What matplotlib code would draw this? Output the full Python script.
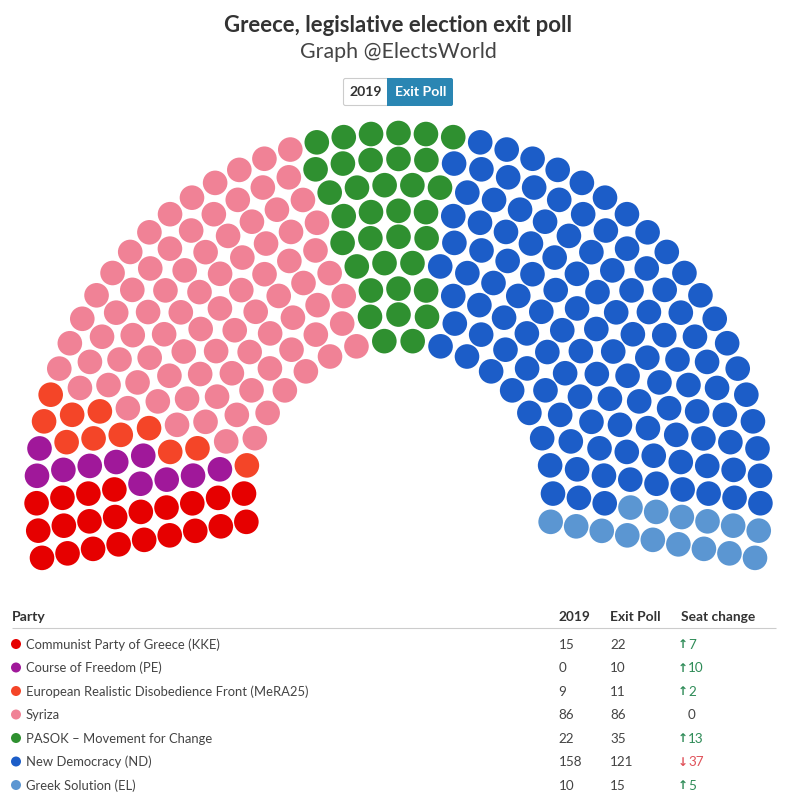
import numpy as np
import matplotlib
matplotlib.use("Agg")
import matplotlib.pyplot as plt
from matplotlib.patches import Circle, FancyBboxPatch, Rectangle

parties = ["Communist Party of Greece (KKE)", "Course of Freedom (PE)",
           "European Realistic Disobedience Front (MeRA25)", "Syriza",
           "PASOK – Movement for Change", "New Democracy (ND)", "Greek Solution (EL)"]
seats_2019 = [15, 0, 9, 86, 22, 158, 10]
seats_exit = [22, 10, 11, 86, 35, 121, 15]
colors = ["#e60000", "#a0189a", "#f44528", "#f08296", "#2f9030", "#1c5dc8", "#5b96d2"]

plt.rcParams["font.family"] = ["Lato", "DejaVu Sans"]
DARK = "#333333"
W, H = 796, 805


def px(size):
    return size * 0.72


def hemicycle(total, n_rows=9, r_in=154.5, r_out=362.0, cx=398.5, cy=495.0, overhang=10.0):
    # equal spacing along every row, largest remainder for the rounding
    radii = np.linspace(r_in, r_out, n_rows)
    share = total * radii / radii.sum()
    counts = np.floor(share).astype(int)
    for i in np.argsort(counts - share)[: total - counts.sum()]:
        counts[i] += 1
    start = np.radians(180 + overhang)
    end = np.radians(-overhang)
    pts = []
    for r, n in zip(radii, counts):
        for a in np.linspace(start, end, n):
            pts.append((-round(a, 4), r, cx + r * np.cos(a), cy - r * np.sin(a)))
    pts.sort(key=lambda p: (p[0], p[1]))
    return [(p[2], p[3]) for p in pts]


fig = plt.figure(figsize=(W / 100, H / 100), dpi=100)
ax = fig.add_axes([0, 0, 1, 1])
ax.set_xlim(0, W)
ax.set_ylim(H, 0)
ax.axis("off")

# titel + knoppen
ax.text(398.5, 25, "Greece, legislative election exit poll", ha="center", va="center",
        fontsize=px(22.1), fontweight="bold", color=DARK)
ax.text(398, 52, "Graph @ElectsWorld", ha="center", va="center", fontsize=px(21.4),
        color="#444444")
ax.add_patch(FancyBboxPatch((343.5, 78.5), 60, 27, boxstyle="round,pad=0,rounding_size=2",
                            fc="white", ec="#cccccc", lw=0.8))
ax.add_patch(FancyBboxPatch((387, 78), 66, 28, boxstyle="round,pad=0,rounding_size=2",
                            fc="#2a86b3", ec="none"))
ax.add_patch(Rectangle((387, 78), 6, 28, fc="#2a86b3", ec="none"))
ax.text(366, 92.5, "2019", ha="center", va="center", fontsize=px(14), fontweight="bold", color=DARK)
ax.text(420.5, 92.5, "Exit Poll", ha="center", va="center", fontsize=px(14), fontweight="bold", color="white")

# zetels
positions = hemicycle(sum(seats_exit))
seat_colors = [c for c, n in zip(colors, seats_exit) for _ in range(n)]
for (x, y), c in zip(positions, seat_colors):
    ax.add_patch(Circle((x, y), 12.3, fc=c, ec="none"))

# tabel
COL_PARTY, COL_2019, COL_EXIT, COL_CHANGE = 12, 558.5, 610, 681
ax.text(COL_PARTY, 617, "Party", va="center", fontsize=px(14), fontweight="bold", color=DARK)
ax.text(COL_2019, 617, "2019", va="center", fontsize=px(13.6), fontweight="bold", color=DARK)
ax.text(COL_EXIT, 617, "Exit Poll", va="center", fontsize=px(13.8), fontweight="bold", color=DARK)
ax.text(COL_CHANGE, 617, "Seat change", va="center", fontsize=px(13.8), fontweight="bold", color=DARK)
ax.plot([12, 776], [628, 628], color="#cccccc", lw=0.8, solid_capstyle="butt")

row_y = np.linspace(644.5, 785.5, len(parties))
for y, name, old, new, c in zip(row_y, parties, seats_2019, seats_exit, colors):
    ax.add_patch(Circle((16, y - 0.5), 5, fc=c, ec="none"))
    ax.text(26, y, name, va="center", fontsize=px(13), color="#444444")
    ax.text(COL_2019, y, str(old), va="center", fontsize=px(13.5), color="#444444")
    ax.text(COL_EXIT, y, str(new), va="center", fontsize=px(13.5), color="#444444")
    diff = new - old
    if diff > 0:
        col = "#2e8b57"
        arrow = "↑"
    elif diff < 0:
        col = "#e0525a"
        arrow = "↓"
    else:
        col = "#444444"
        arrow = ""
    if arrow:
        ax.text(682.5, y, arrow, ha="center", va="center", fontsize=px(12), color=col,
                family="DejaVu Sans", fontweight="bold")
    ax.text(688, y, str(abs(diff)), va="center", fontsize=px(13.5), color=col)

fig.savefig("out.png", dpi=100)
